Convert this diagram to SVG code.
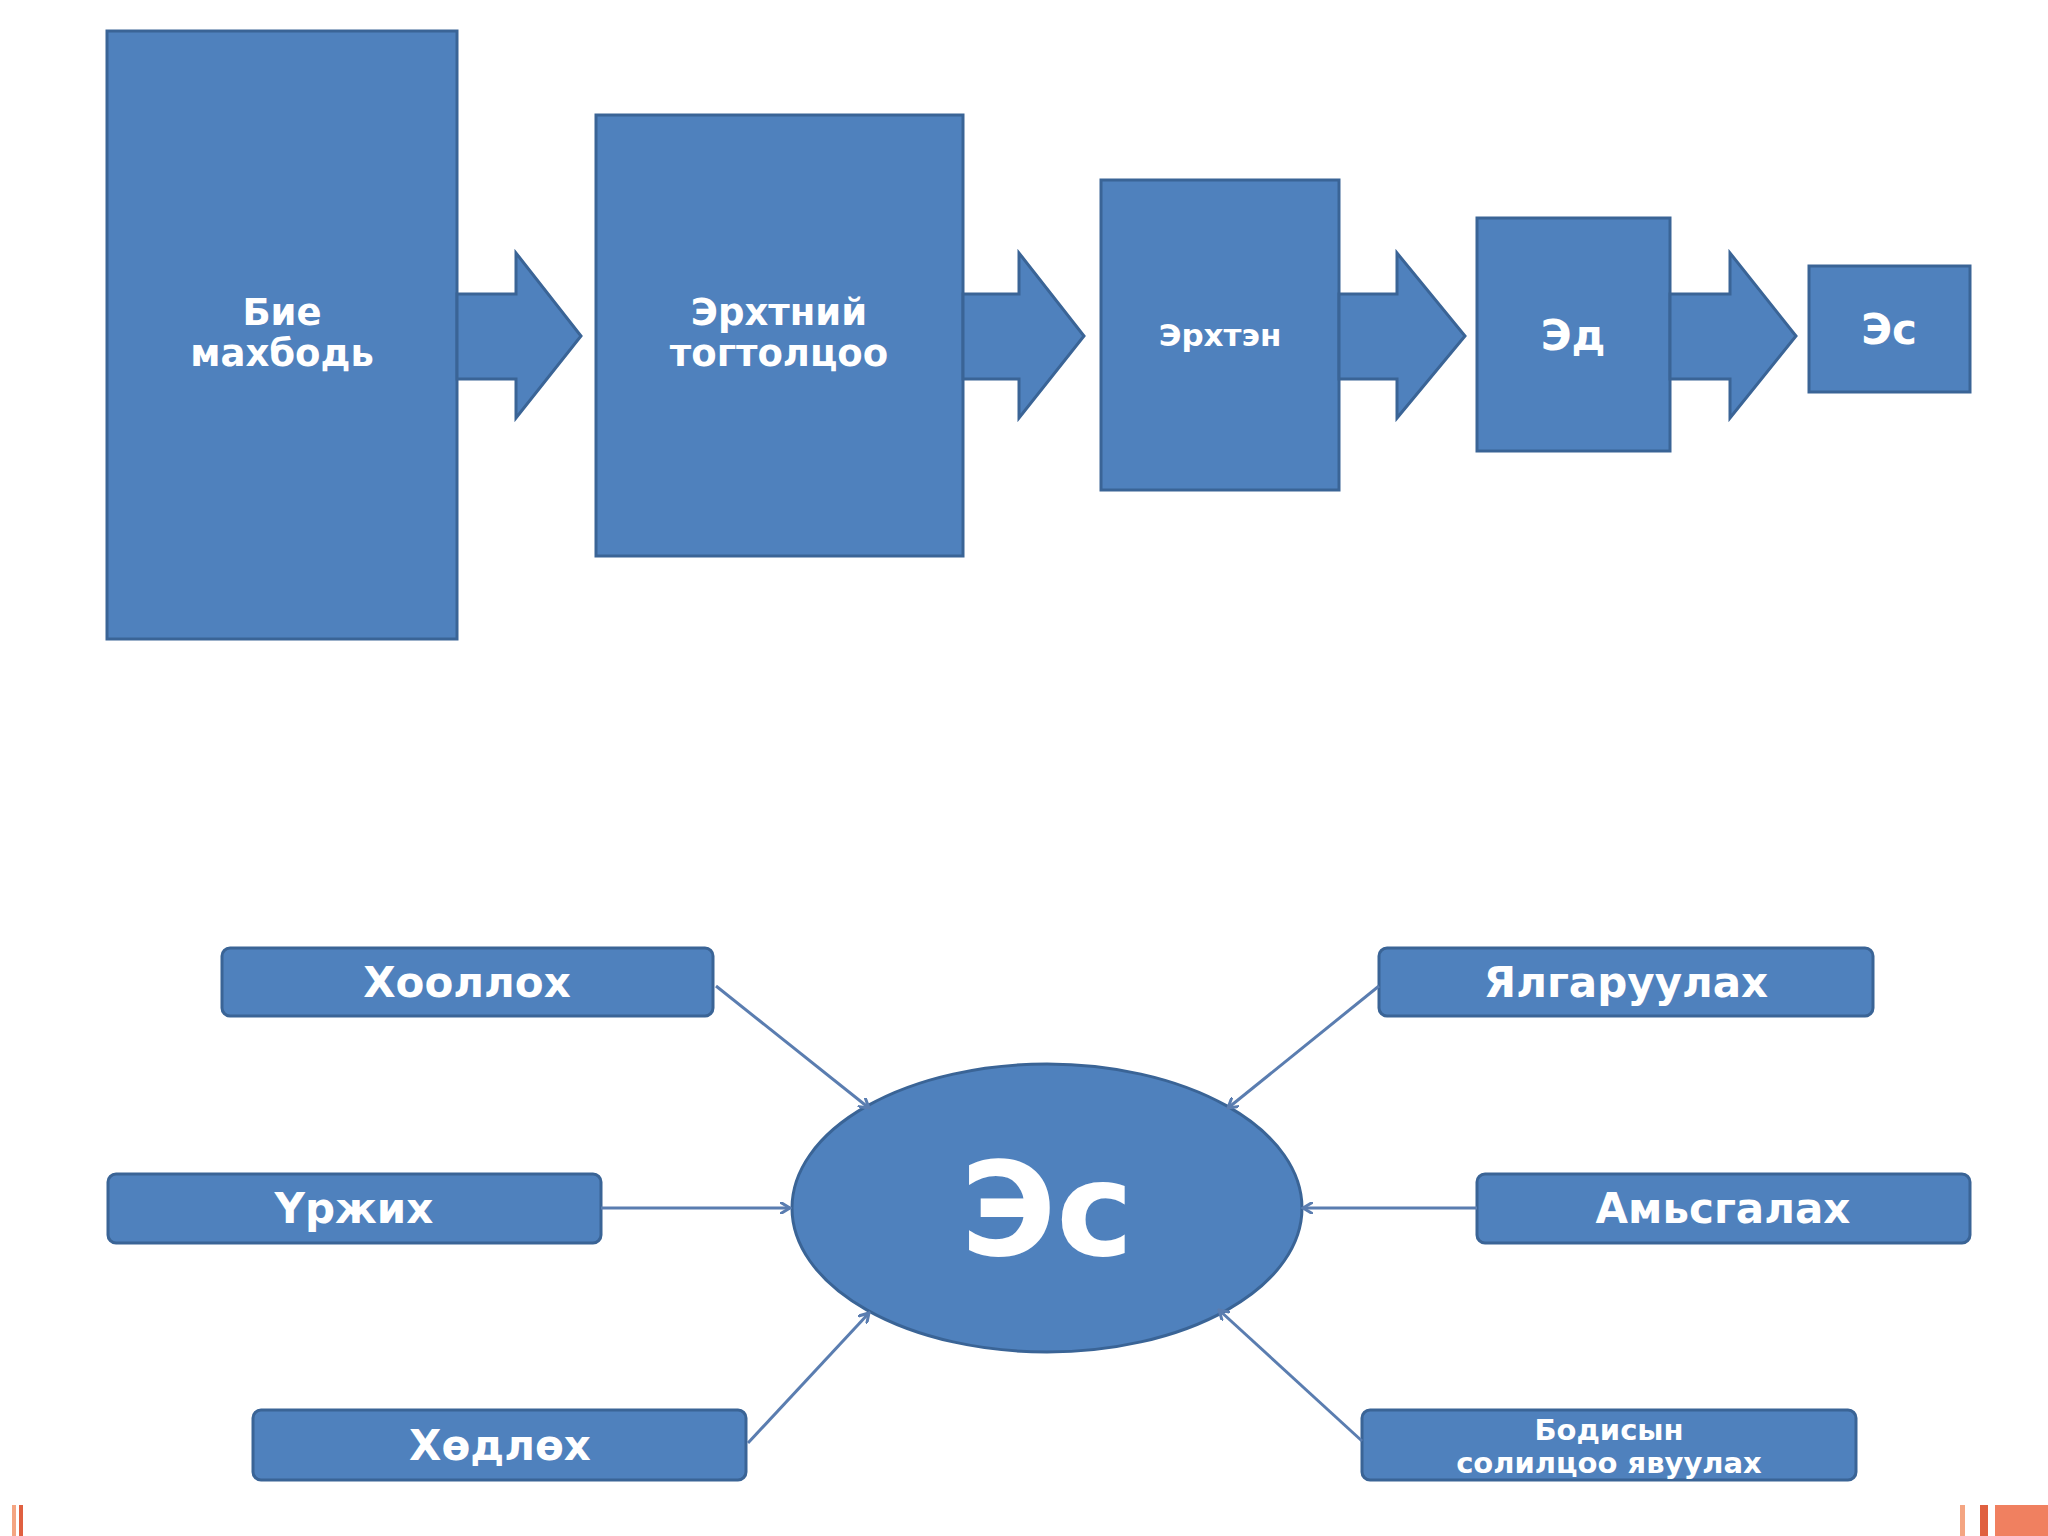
<svg xmlns="http://www.w3.org/2000/svg" width="2048" height="1536" viewBox="0 0 2048 1536">
<style>
.b{fill:#4F81BD;stroke:#3A6496;stroke-width:3}
.t{fill:#fff;font-family:"DejaVu Sans",sans-serif;font-weight:bold;text-anchor:middle}
.c{stroke:#5A7DB0;stroke-width:3;fill:none;marker-end:url(#a)}
</style>
<defs><marker id="a" markerWidth="12" markerHeight="12" refX="10" refY="6" orient="auto" markerUnits="userSpaceOnUse"><path d="M0,0 L10,6 L0,12" fill="none" stroke="#5A7DB0" stroke-width="3"/></marker></defs>
<rect width="2048" height="1536" fill="#fff"/>
<g id="n1"><rect class="b" x="107" y="31" width="350" height="608"/><text class="t" font-size="37" x="282" y="325">Бие</text><text class="t" font-size="37" x="282" y="366">махбодь</text></g>
<g id="n2"><rect class="b" x="596" y="115" width="367" height="441"/><text class="t" font-size="37" x="779" y="325">Эрхтний</text><text class="t" font-size="37" x="779" y="366">тогтолцоо</text></g>
<g id="n3"><rect class="b" x="1101" y="180" width="238" height="310"/><text class="t" font-size="31" x="1220" y="346">Эрхтэн</text></g>
<g id="n4"><rect class="b" x="1477" y="218" width="193" height="233"/><text class="t" font-size="42" x="1573" y="350">Эд</text></g>
<g id="n5"><rect class="b" x="1809" y="266" width="161" height="126"/><text class="t" font-size="42" x="1889" y="344">Эс</text></g>
<g id="arrows">
<path class="b" d="M457,294 H516 V253 L581,336 L516,418 V379 H457Z"/>
<path class="b" d="M963,294 H1019 V253 L1084,336 L1019,418 V379 H963Z"/>
<path class="b" d="M1339,294 H1397 V253 L1465,336 L1397,418 V379 H1339Z"/>
<path class="b" d="M1670,294 H1730 V253 L1796,336 L1730,418 V379 H1670Z"/>
</g>
<g id="center"><ellipse class="b" cx="1047" cy="1208" rx="255" ry="144"/><text class="t" font-size="130" x="1047" y="1255">Эс</text></g>
<g id="l1"><rect class="b" x="222" y="948" width="491" height="68" rx="8"/><text class="t" font-size="42" x="467" y="997">Хооллох</text></g>
<g id="l2"><rect class="b" x="108" y="1174" width="493" height="69" rx="8"/><text class="t" font-size="42" x="354" y="1223">Үржих</text></g>
<g id="l3"><rect class="b" x="253" y="1410" width="493" height="70" rx="8"/><text class="t" font-size="42" x="500" y="1460">Хөдлөх</text></g>
<g id="r1"><rect class="b" x="1379" y="948" width="494" height="68" rx="8"/><text class="t" font-size="42" x="1626" y="997">Ялгаруулах</text></g>
<g id="r2"><rect class="b" x="1477" y="1174" width="493" height="69" rx="8"/><text class="t" font-size="42" x="1723" y="1223">Амьсгалах</text></g>
<g id="r3"><rect class="b" x="1362" y="1410" width="494" height="70" rx="8"/><text class="t" font-size="29" x="1609" y="1440">Бодисын</text><text class="t" font-size="29" x="1609" y="1473">солилцоо явуулах</text></g>
<g id="connectors">
<line class="c" x1="716" y1="986" x2="869" y2="1108"/>
<line class="c" x1="601" y1="1208" x2="790" y2="1208"/>
<line class="c" x1="748" y1="1443" x2="869" y2="1313"/>
<line class="c" x1="1379" y1="986" x2="1228" y2="1108"/>
<line class="c" x1="1477" y1="1208" x2="1303" y2="1208"/>
<line class="c" x1="1362" y1="1441" x2="1219" y2="1310"/>
</g>
<g id="deco">
<rect x="12" y="1505" width="4" height="31" fill="#F4A582"/><rect x="19" y="1505" width="4" height="31" fill="#E06040"/>
<rect x="1960" y="1505" width="5" height="31" fill="#F4A582"/><rect x="1980" y="1505" width="8" height="31" fill="#E06040"/><rect x="1995" y="1505" width="53" height="31" fill="#F08060"/>
</g>
</svg>
